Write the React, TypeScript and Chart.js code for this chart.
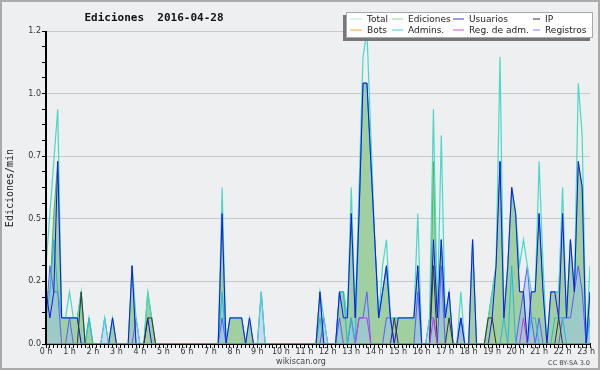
import React, { useEffect, useRef } from "react";
import { Chart, registerables } from "chart.js";

Chart.register(...registerables);

// ---------- DATA (edits per 10-minute bin, 2016-04-28, 00:00 -> 23:10) ----------
const total = [
  3, 5, 7, 9, 1, 1, 2, 1, 1, 2,
  0, 1, 0, 0, 0, 1, 0, 1, 0, 0,
  0, 0, 3, 1, 0, 0, 2, 1, 0, 0,
  0, 0, 0, 0, 0, 0, 0, 0, 0, 0,
  0, 0, 0, 0, 0, 6, 0, 1, 1, 1,
  1, 0, 1, 0, 0, 2, 0, 0, 0, 0,
  0, 0, 0, 0, 0, 0, 0, 0, 0, 0,
  2, 1, 0, 0, 0, 2, 2, 1, 6, 1,
  6, 11, 12, 8, 4, 1, 3, 4, 1, 1,
  1, 1, 1, 1, 1, 5, 0, 0, 1, 9,
  1, 8, 1, 2, 0, 0, 2, 0, 0, 4,
  0, 0, 0, 1, 2, 3, 11, 1, 3, 6,
  5, 3, 4, 3, 2, 2, 7, 3, 0, 2,
  2, 2, 6, 1, 4, 2, 10, 8, 0, 3,
];
const ediciones = [
  2, 2, 5, 7, 1, 1, 1, 1, 1, 2,
  0, 1, 0, 0, 0, 0, 0, 1, 0, 0,
  0, 0, 3, 0, 0, 0, 2, 1, 0, 0,
  0, 0, 0, 0, 0, 0, 0, 0, 0, 0,
  0, 0, 0, 0, 0, 5, 0, 1, 1, 1,
  1, 0, 1, 0, 0, 0, 0, 0, 0, 0,
  0, 0, 0, 0, 0, 0, 0, 0, 0, 0,
  2, 0, 0, 0, 0, 2, 2, 1, 5, 1,
  5, 10, 10, 7, 4, 1, 2, 3, 1, 1,
  1, 1, 1, 1, 1, 3, 0, 0, 0, 7,
  1, 4, 1, 2, 0, 0, 1, 0, 0, 4,
  0, 0, 0, 1, 2, 3, 7, 1, 3, 6,
  5, 2, 2, 0, 2, 2, 5, 2, 0, 2,
  2, 2, 5, 1, 4, 2, 7, 6, 0, 2,
];
const usuarios = [
  2, 1, 2, 7, 1, 1, 1, 1, 1, 0,
  0, 0, 0, 0, 0, 0, 0, 1, 0, 0,
  0, 0, 3, 0, 0, 0, 1, 0, 0, 0,
  0, 0, 0, 0, 0, 0, 0, 0, 0, 0,
  0, 0, 0, 0, 0, 5, 0, 1, 1, 1,
  1, 0, 1, 0, 0, 0, 0, 0, 0, 0,
  0, 0, 0, 0, 0, 0, 0, 0, 0, 0,
  2, 0, 0, 0, 0, 2, 1, 1, 5, 1,
  5, 10, 10, 7, 4, 1, 2, 3, 1, 0,
  1, 1, 1, 1, 1, 3, 0, 0, 0, 4,
  1, 4, 1, 2, 0, 0, 1, 0, 0, 4,
  0, 0, 0, 0, 1, 3, 7, 1, 3, 6,
  5, 2, 2, 0, 2, 2, 5, 2, 0, 2,
  2, 1, 5, 1, 4, 2, 7, 6, 0, 2,
];
const ip = [
  0, 0, 0, 0, 0, 0, 0, 0, 0, 2,
  0, 0, 0, 0, 0, 0, 0, 0, 0, 0,
  0, 0, 0, 0, 0, 0, 1, 1, 0, 0,
  0, 0, 0, 0, 0, 0, 0, 0, 0, 0,
  0, 0, 0, 0, 0, 0, 0, 0, 0, 0,
  0, 0, 0, 0, 0, 0, 0, 0, 0, 0,
  0, 0, 0, 0, 0, 0, 0, 0, 0, 0,
  0, 0, 0, 0, 0, 0, 0, 0, 0, 0,
  0, 0, 0, 0, 0, 0, 0, 0, 0, 1,
  0, 0, 0, 0, 0, 0, 0, 0, 0, 3,
  0, 0, 0, 1, 0, 0, 0, 0, 0, 0,
  0, 0, 0, 1, 1, 0, 0, 0, 0, 0,
  0, 0, 0, 0, 0, 0, 0, 0, 0, 0,
  0, 1, 0, 0, 0, 0, 0, 0, 0, 0,
];
const bots = [
  0, 0, 0, 0, 0, 0, 0, 0, 0, 0,
  0, 0, 0, 0, 0, 0, 0, 0, 0, 0,
  0, 0, 0, 0, 0, 0, 0, 0, 0, 0,
  0, 0, 0, 0, 0, 0, 0, 0, 0, 0,
  0, 0, 0, 0, 0, 0, 0, 0, 0, 0,
  0, 0, 0, 0, 0, 0, 0, 0, 0, 0,
  0, 0, 0, 0, 0, 0, 0, 0, 0, 0,
  0, 0, 0, 0, 0, 0, 0, 0, 0, 0,
  0, 0, 0, 0, 0, 0, 0, 0, 0, 0,
  0, 0, 0, 0, 0, 0, 0, 0, 0, 0,
  0, 0, 0, 0, 0, 0, 0, 0, 0, 0,
  0, 0, 0, 0, 0, 0, 0, 0, 0, 0,
  0, 0, 0, 0, 0, 0, 0, 0, 0, 0,
  0, 0, 0, 0, 0, 0, 0, 0, 0, 0,
];
const admins = [
  1, 2, 4, 2, 1, 1, 1, 1, 1, 0,
  0, 1, 0, 0, 0, 0, 0, 0, 0, 0,
  0, 0, 0, 0, 0, 0, 0, 0, 0, 0,
  0, 0, 0, 0, 0, 0, 0, 0, 0, 0,
  0, 0, 0, 0, 0, 2, 0, 0, 0, 0,
  0, 0, 0, 0, 0, 0, 0, 0, 0, 0,
  0, 0, 0, 0, 0, 0, 0, 0, 0, 0,
  1, 0, 0, 0, 0, 2, 2, 0, 1, 0,
  5, 10, 10, 7, 4, 1, 2, 3, 1, 0,
  0, 0, 0, 0, 0, 0, 0, 0, 0, 0,
  0, 0, 0, 0, 0, 0, 0, 0, 0, 0,
  0, 0, 0, 0, 0, 0, 0, 1, 0, 3,
  0, 0, 0, 0, 1, 1, 0, 0, 0, 0,
  1, 1, 1, 0, 0, 0, 0, 0, 0, 1,
];
const regAdm = [
  0, 0, 0, 0, 0, 0, 0, 0, 0, 0,
  0, 0, 0, 0, 0, 0, 0, 0, 0, 0,
  0, 0, 0, 0, 0, 0, 0, 0, 0, 0,
  0, 0, 0, 0, 0, 0, 0, 0, 0, 0,
  0, 0, 0, 0, 0, 0, 0, 0, 0, 0,
  0, 0, 0, 0, 0, 0, 0, 0, 0, 0,
  0, 0, 0, 0, 0, 0, 0, 0, 0, 0,
  0, 0, 0, 0, 0, 0, 0, 0, 0, 0,
  1, 1, 1, 0, 0, 0, 0, 0, 0, 0,
  0, 0, 0, 0, 0, 0, 0, 0, 0, 1,
  0, 0, 0, 0, 0, 0, 0, 0, 0, 0,
  0, 0, 0, 0, 0, 0, 0, 0, 0, 0,
  0, 0, 1, 0, 0, 0, 0, 0, 0, 0,
  0, 0, 0, 0, 0, 0, 0, 0, 0, 0,
];
const registros = [
  1, 3, 2, 2, 0, 0, 1, 0, 0, 0,
  0, 0, 0, 0, 0, 1, 0, 0, 0, 0,
  0, 0, 0, 1, 0, 0, 0, 0, 0, 0,
  0, 0, 0, 0, 0, 0, 0, 0, 0, 0,
  0, 0, 0, 0, 0, 1, 0, 0, 0, 0,
  0, 0, 0, 0, 0, 2, 0, 0, 0, 0,
  0, 0, 0, 0, 0, 0, 0, 0, 0, 0,
  0, 1, 0, 0, 0, 1, 0, 0, 1, 0,
  1, 1, 2, 0, 0, 0, 0, 1, 1, 0,
  0, 0, 0, 0, 0, 2, 0, 0, 1, 1,
  0, 3, 0, 0, 0, 0, 1, 0, 0, 0,
  0, 0, 0, 0, 0, 0, 0, 0, 0, 0,
  0, 1, 2, 3, 1, 0, 1, 0, 0, 0,
  0, 0, 1, 1, 1, 2, 3, 2, 0, 1,
];

const BIN_MINUTES = 10;
const BINS_PER_HOUR = 6;
const Y_TICK_VALUES = [0, 0.24, 0.48, 0.72, 0.96, 1.2];
const Y_TICK_LABELS = ["0.0", "0.2", "0.5", "0.7", "1.0", "1.2"];
const TITLE = "Ediciones  2016-04-28";
const Y_TITLE = "Ediciones/min";

type Series = {
  name: string;
  values: number[];
  line: string;
  legend: string;
  width: number;
  fill?: string;
  order: number;
};

const SERIES: Series[] = [
  { name: "Total", values: total, line: "#48d8c8", legend: "#b2eae2", width: 1.2, order: 6 },
  { name: "Ediciones", values: ediciones, line: "#46b846", legend: "#94d494", width: 1, fill: "#a0cfa0", order: 8 },
  { name: "Usuarios", values: usuarios, line: "#1414f0", legend: "#3a3ae0", width: 1, order: 4 },
  { name: "IP", values: ip, line: "#333333", legend: "#333333", width: 1, order: 3 },
  { name: "Bots", values: bots, line: "#ff9a2a", legend: "#f4a040", width: 1, order: 1 },
  { name: "Admins.", values: admins, line: "#22b8e0", legend: "#44c8e4", width: 1, order: 5 },
  { name: "Reg. de adm.", values: regAdm, line: "#cc33ee", legend: "#d050e8", width: 1, order: 2 },
  { name: "Registros", values: registros, line: "#5c5cff", legend: "#7c7cf4", width: 1, fill: "rgba(150,195,245,0.45)", order: 7 },
];

const BG = "#eeeff0";

const decor = {
  id: "decor",
  beforeDraw(chart: any) {
    const ctx = chart.ctx;
    ctx.save();
    ctx.fillStyle = BG;
    ctx.fillRect(0, 0, chart.width, chart.height);
    ctx.restore();
  },
  afterDatasetsDraw(chart: any) {
    const { ctx, chartArea } = chart;
    ctx.save();
    ctx.strokeStyle = "#000";
    ctx.lineWidth = 2;
    ctx.beginPath();
    ctx.moveTo(chartArea.left, chartArea.top);
    ctx.lineTo(chartArea.left, chartArea.bottom + 1);
    ctx.stroke();
    ctx.restore();
  },
  afterDraw(chart: any) {
    const { ctx } = chart;
    ctx.save();
    // title
    ctx.fillStyle = "#111";
    ctx.font = 'bold 11px "DejaVu Sans Mono"';
    ctx.textAlign = "center";
    ctx.textBaseline = "alphabetic";
    ctx.fillText(TITLE, 154, 20.5);
    // y title
    ctx.save();
    ctx.translate(10, 188);
    ctx.rotate(-Math.PI / 2);
    ctx.font = '10px "DejaVu Sans Mono"';
    ctx.textBaseline = "middle";
    ctx.fillStyle = "#222";
    ctx.fillText(Y_TITLE, 0, 0);
    ctx.restore();
    // footer
    ctx.fillStyle = "#444";
    ctx.font = '8px "DejaVu Sans"';
    ctx.textAlign = "center";
    ctx.fillText("wikiscan.org", 301, 364);
    ctx.font = '6.5px "DejaVu Sans"';
    ctx.textAlign = "right";
    ctx.fillText("CC BY-SA 3.0", 590, 365);
    // legend
    ctx.fillStyle = "#777";
    ctx.fillRect(343, 15, 247, 26);
    ctx.fillStyle = "#fff";
    ctx.fillRect(346, 12, 247, 26);
    ctx.strokeStyle = "#aaa";
    ctx.lineWidth = 1;
    ctx.strokeRect(346.5, 12.5, 246, 25);
    const sampleX = [350, 392, 453, 533];
    const textX = [367, 408, 469, 545];
    const rowY = [18.5, 29.5];
    ctx.font = '9px "DejaVu Sans"';
    ctx.textAlign = "left";
    ctx.textBaseline = "middle";
    SERIES.forEach((s, k) => {
      const col = k % 4;
      const row = Math.floor(k / 4);
      const y = rowY[row];
      ctx.strokeStyle = s.legend;
      ctx.lineWidth = 1;
      ctx.beginPath();
      ctx.moveTo(sampleX[col], y + 0.5);
      ctx.lineTo(textX[col] - 5, y + 0.5);
      ctx.stroke();
      ctx.fillStyle = "#222";
      ctx.fillText(s.name, textX[col], y + 1);
    });
    // outer border
    ctx.strokeStyle = "#aaa";
    ctx.lineWidth = 2;
    ctx.strokeRect(1, 1, chart.width - 2, chart.height - 2);
    ctx.restore();
  },
};

export default function App() {
  const ref = useRef<HTMLCanvasElement | null>(null);

  useEffect(() => {
    document.body.style.margin = "0";
    const canvas = ref.current;
    if (!canvas) return;

    const binIndex = total.map((_, i) => i);
    const yTicks: number[] = [];
    for (let k = 0; k < Y_TICK_VALUES.length; k++) {
      yTicks.push(Y_TICK_VALUES[k]);
      if (k < Y_TICK_VALUES.length - 1) {
        const step = (Y_TICK_VALUES[k + 1] - Y_TICK_VALUES[k]) / 4;
        for (let m = 1; m < 4; m++) yTicks.push(Y_TICK_VALUES[k] + step * m);
      }
    }
    const tickFont = { family: '"DejaVu Sans"', size: 8 };

    const chart = new Chart(canvas, {
      type: "line",
      data: {
        datasets: SERIES.map((s) => ({
          label: s.name,
          data: s.values.map((v, i) => ({ x: i, y: v / BIN_MINUTES })),
          borderColor: s.line,
          borderWidth: s.width,
          backgroundColor: s.fill || s.line,
          fill: s.fill ? "origin" : false,
          pointRadius: 0,
          tension: 0,
          order: s.order,
        })),
      },
      options: {
        responsive: false,
        animation: false,
        devicePixelRatio: 1,
        layout: { padding: { top: 31, right: 10, bottom: 0, left: 0 } },
        plugins: {
          legend: { display: false },
          title: { display: false },
          tooltip: { enabled: false },
        },
        scales: {
          x: {
            type: "linear",
            min: 0,
            max: binIndex[binIndex.length - 1],
            z: 1,
            afterBuildTicks: (s: any) => {
              s.ticks = binIndex.map((v) => ({ value: v }));
            },
            afterFit: (s: any) => {
              s.height = 26;
            },
            grid: { drawOnChartArea: false, tickLength: 4, color: "#000", tickColor: "#000", lineWidth: 1 },
            border: { display: true, color: "#000", width: 2 },
            ticks: {
              autoSkip: false,
              maxRotation: 0,
              minRotation: 0,
              padding: -1,
              color: "#333",
              font: tickFont,
              callback: (v: any) => (v % BINS_PER_HOUR === 0 ? `${v / BINS_PER_HOUR} h` : ""),
            },
          },
          y: {
            min: 0,
            max: Y_TICK_VALUES[Y_TICK_VALUES.length - 1],
            afterBuildTicks: (s: any) => {
              s.ticks = yTicks.map((v) => ({ value: v }));
            },
            afterFit: (s: any) => {
              s.width = 46;
            },
            grid: {
              color: (c: any) => (c.index % 4 === 0 && c.index > 0 ? "#c8c8c8" : "rgba(0,0,0,0)"),
              tickColor: "#000",
              tickLength: 4,
              lineWidth: 1,
            },
            border: { display: false },
            ticks: {
              padding: 1,
              color: "#333",
              font: tickFont,
              autoSkip: false,
              callback: (_v: any, i: number) => (i % 4 === 0 ? Y_TICK_LABELS[i / 4] : ""),
            },
          },
        },
      },
      plugins: [decor],
    });
    return () => chart.destroy();
  }, []);

  return <canvas ref={ref} width={600} height={370} style={{ display: "block" }} />;
}
